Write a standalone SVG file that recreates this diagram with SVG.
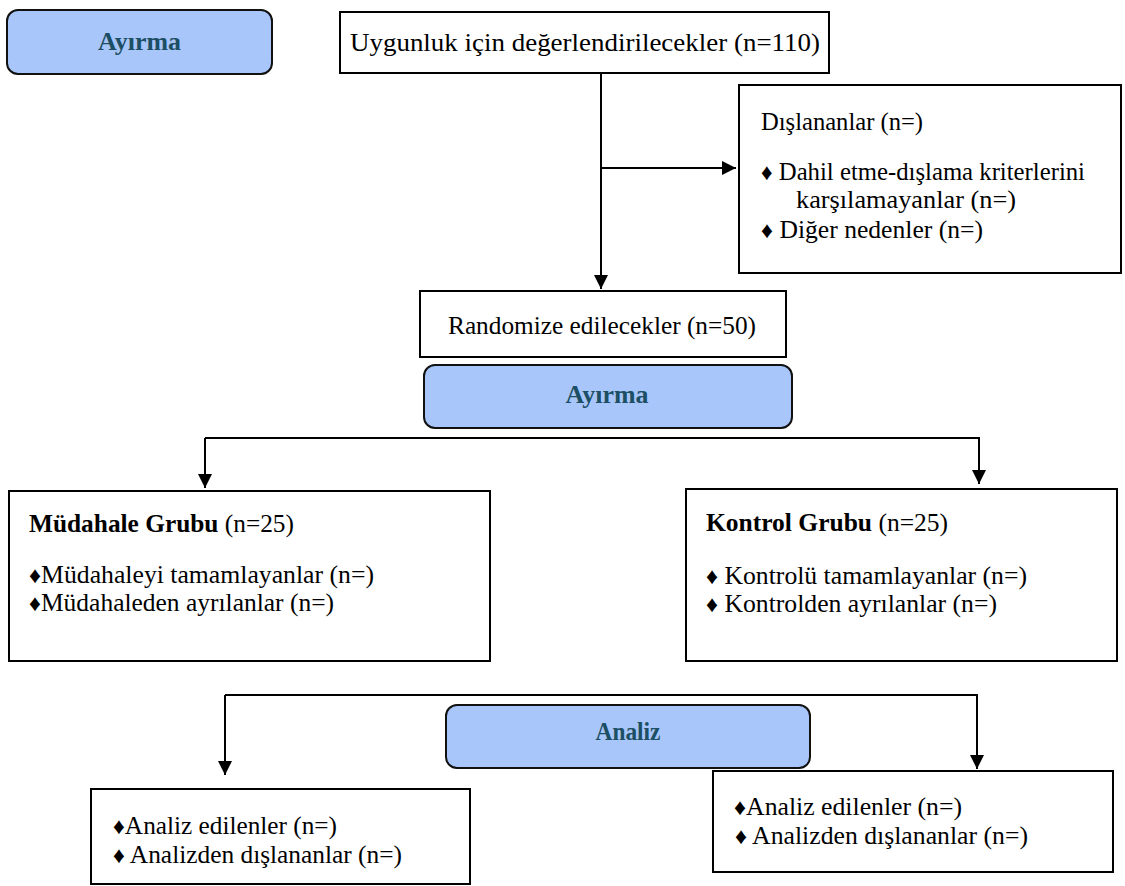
<svg xmlns="http://www.w3.org/2000/svg" width="1125" height="886" viewBox="0 0 1125 886">
<defs>
<style>
.box{fill:#ffffff;stroke:#000000;stroke-width:2}
.pill{fill:#a8c6fa;stroke:#111111;stroke-width:2}
.t{font-size:25px;fill:#000000}
.h{font-size:25px;font-weight:bold;fill:#1c4f63}
.b{font-weight:bold}
.d{font-size:23px}
.c{fill:none;stroke:#000000;stroke-width:2}
</style>
<marker id="arrd" markerWidth="14" markerHeight="14" refX="14" refY="7" orient="auto" markerUnits="userSpaceOnUse" viewBox="0 0 14 14">
<path d="M0,0 L14,7 L0,14 Z" fill="#000000"/>
</marker>
</defs>
<rect width="1125" height="886" fill="#ffffff"/>

<g id="connectors">
<line class="c" x1="601" y1="73" x2="601" y2="289" marker-end="url(#arrd)"/>
<line class="c" x1="601" y1="168" x2="736" y2="168" marker-end="url(#arrd)"/>
<polyline class="c" points="205,438 979,438 979,484" marker-end="url(#arrd)"/>
<line class="c" x1="205" y1="438" x2="205" y2="488" marker-end="url(#arrd)"/>
<polyline class="c" points="225,695 977,695 977,769" marker-end="url(#arrd)"/>
<line class="c" x1="225" y1="695" x2="225" y2="775" marker-end="url(#arrd)"/>
</g>

<g font-family="'Liberation Serif', 'Times New Roman', serif">
<g id="ayirma-top">
<rect class="pill" x="7" y="10" width="265" height="64" rx="11"/>
<text class="h" x="139.5" y="50" text-anchor="middle" textLength="83" lengthAdjust="spacingAndGlyphs">Ayırma</text>
</g>

<g id="uygunluk">
<rect class="box" x="340" y="12" width="489" height="61"/>
<text class="t" x="350" y="51" font-size="26" textLength="470" lengthAdjust="spacingAndGlyphs">Uygunluk için değerlendirilecekler (n=110)</text>
</g>

<g id="dislananlar">
<rect class="box" x="739" y="85" width="382" height="188"/>
<text class="t" x="761" y="130" font-size="22" textLength="162" lengthAdjust="spacingAndGlyphs">Dışlananlar (n=)</text>
<text class="t" x="761" y="180" textLength="324" lengthAdjust="spacingAndGlyphs"><tspan class="d">♦</tspan> Dahil etme-dışlama kriterlerini</text>
<text class="t" x="796" y="208" textLength="220" lengthAdjust="spacingAndGlyphs">karşılamayanlar (n=)</text>
<text class="t" x="761" y="238" textLength="222" lengthAdjust="spacingAndGlyphs"><tspan class="d">♦</tspan> Diğer nedenler (n=)</text>
</g>

<g id="randomize">
<rect class="box" x="420" y="291" width="366" height="66"/>
<text class="t" x="448" y="334" font-size="27" textLength="308" lengthAdjust="spacingAndGlyphs">Randomize edilecekler (n=50)</text>
</g>

<g id="ayirma-mid">
<rect class="pill" x="424" y="365" width="368" height="63" rx="11"/>
<text class="h" x="607" y="403" text-anchor="middle" textLength="83" lengthAdjust="spacingAndGlyphs">Ayırma</text>
</g>

<g id="mudahale">
<rect class="box" x="9" y="491" width="481" height="170"/>
<text class="t" x="29" y="532" textLength="265" lengthAdjust="spacingAndGlyphs"><tspan class="b">Müdahale Grubu</tspan> (n=25)</text>
<text class="t" x="29" y="583" textLength="345" lengthAdjust="spacingAndGlyphs"><tspan class="d">♦</tspan>Müdahaleyi tamamlayanlar (n=)</text>
<text class="t" x="29" y="611" textLength="305" lengthAdjust="spacingAndGlyphs"><tspan class="d">♦</tspan>Müdahaleden ayrılanlar (n=)</text>
</g>

<g id="kontrol">
<rect class="box" x="686" y="489" width="431" height="172"/>
<text class="t" x="706" y="531" textLength="242" lengthAdjust="spacingAndGlyphs"><tspan class="b">Kontrol Grubu</tspan> (n=25)</text>
<text class="t" x="706" y="584" textLength="321" lengthAdjust="spacingAndGlyphs"><tspan class="d">♦</tspan> Kontrolü tamamlayanlar (n=)</text>
<text class="t" x="706" y="612" textLength="291" lengthAdjust="spacingAndGlyphs"><tspan class="d">♦</tspan> Kontrolden ayrılanlar (n=)</text>
</g>

<g id="analiz">
<rect class="pill" x="446" y="705" width="364" height="63" rx="11"/>
<text class="h" x="628" y="740" text-anchor="middle" textLength="65" lengthAdjust="spacingAndGlyphs">Analiz</text>
</g>

<g id="analiz-left">
<rect class="box" x="91" y="789" width="379" height="95"/>
<text class="t" x="113" y="834" textLength="224" lengthAdjust="spacingAndGlyphs"><tspan class="d">♦</tspan>Analiz edilenler (n=)</text>
<text class="t" x="113" y="863" textLength="289" lengthAdjust="spacingAndGlyphs"><tspan class="d">♦</tspan> Analizden dışlananlar (n=)</text>
</g>

<g id="analiz-right">
<rect class="box" x="713" y="771" width="400" height="101"/>
<text class="t" x="734" y="815" textLength="228" lengthAdjust="spacingAndGlyphs"><tspan class="d">♦</tspan>Analiz edilenler (n=)</text>
<text class="t" x="735" y="844" textLength="293" lengthAdjust="spacingAndGlyphs"><tspan class="d">♦</tspan> Analizden dışlananlar (n=)</text>
</g>
</g>
</svg>
